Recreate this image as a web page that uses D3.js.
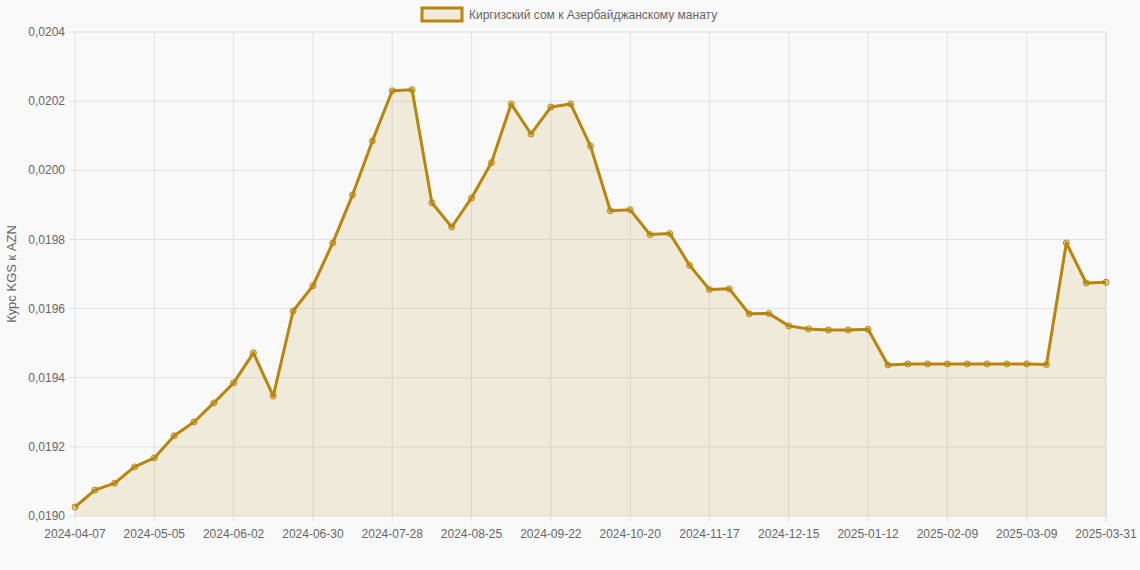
<!DOCTYPE html>
<html><head><meta charset="utf-8">
<script src="https://cdn.jsdelivr.net/npm/d3@7"></script>
<style>body{margin:0;background:#f9f9f9;font-family:"Liberation Sans",Arial,sans-serif}</style>
</head><body><svg id="chart" width="1140" height="570"></svg>
<script>
const dates = ["2024-04-07","2024-04-14","2024-04-21","2024-04-28","2024-05-05","2024-05-12","2024-05-19","2024-05-26",
"2024-06-02","2024-06-09","2024-06-16","2024-06-23","2024-06-30","2024-07-07","2024-07-14","2024-07-21",
"2024-07-28","2024-08-04","2024-08-11","2024-08-18","2024-08-25","2024-09-01","2024-09-08","2024-09-15",
"2024-09-22","2024-09-29","2024-10-06","2024-10-13","2024-10-20","2024-10-27","2024-11-03","2024-11-10",
"2024-11-17","2024-11-24","2024-12-01","2024-12-08","2024-12-15","2024-12-22","2024-12-29","2025-01-05",
"2025-01-12","2025-01-19","2025-01-26","2025-02-02","2025-02-09","2025-02-16","2025-02-23","2025-03-02",
"2025-03-09","2025-03-16","2025-03-23","2025-03-30","2025-03-31"];
const rates = [0.019026,0.019075,0.019095,0.019142,0.019168,0.019232,0.019272,0.019327,
0.019385,0.019472,0.019347,0.019593,0.019666,0.019790,0.019929,0.020085,
0.020230,0.020233,0.019906,0.019836,0.019920,0.020022,0.020192,0.020105,
0.020183,0.020192,0.020070,0.019883,0.019886,0.019814,0.019817,0.019725,
0.019655,0.019657,0.019585,0.019586,0.019550,0.019541,0.019538,0.019538,
0.019540,0.019437,0.019440,0.019440,0.019440,0.019440,0.019440,0.019440,
0.019440,0.019438,0.019790,0.019674,0.019676];
const yTicks = [0.0190,0.0192,0.0194,0.0196,0.0198,0.0200,0.0202,0.0204];
const label = "Киргизский сом к Азербайджанскому манату";
const color = "#b8860b";

const svg = d3.select("#chart");
const m = {l:75, r:1106, t:32, b:516};
const x = d3.scalePoint().domain(dates).range([m.l, m.r]);
const y = d3.scaleLinear().domain([0.0190, 0.0204]).range([m.b, m.t]);
const shown = dates.filter((d,i) => i % 4 === 0 || i === dates.length - 1);

const g = svg.append("g");
g.selectAll(".vg").data(dates.filter((d,i)=>i%4===0).concat([dates[dates.length-1]])).join("line")
  .attr("x1", d=>x(d)).attr("x2", d=>x(d)).attr("y1", m.t).attr("y2", m.b + 6)
  .attr("stroke", "#e2e2e2");
g.selectAll(".hg").data(yTicks).join("line")
  .attr("x1", m.l - 6).attr("x2", m.r).attr("y1", d=>y(d)).attr("y2", d=>y(d))
  .attr("stroke", "#e2e2e2");

g.selectAll(".yl").data(yTicks).join("text")
  .attr("x", m.l - 10).attr("y", d=>y(d)).attr("dy", "0.35em").attr("text-anchor", "end")
  .attr("font-size", 12).attr("fill", "#666").text(d => d.toFixed(4).replace(".", ","));
g.selectAll(".xl").data(shown).join("text")
  .attr("x", d=>x(d)).attr("y", m.b + 22).attr("text-anchor", "middle")
  .attr("font-size", 12).attr("fill", "#666").text(d=>d);

svg.append("text").attr("transform", `translate(16,${(m.t+m.b)/2}) rotate(-90)`)
  .attr("text-anchor", "middle").attr("font-size", 13).attr("fill", "#666").text("Курс KGS к AZN");

const area = d3.area().x((d,i)=>x(dates[i])).y0(m.b).y1(d=>y(d));
const line = d3.line().x((d,i)=>x(dates[i])).y(d=>y(d));
svg.append("path").datum(rates).attr("d", area).attr("fill", "rgba(184,134,11,0.12)");
svg.append("path").datum(rates).attr("d", line).attr("fill", "none")
  .attr("stroke", color).attr("stroke-width", 3).attr("stroke-linejoin", "round");
svg.selectAll(".pt").data(rates).join("circle")
  .attr("cx", (d,i)=>x(dates[i])).attr("cy", d=>y(d)).attr("r", 3)
  .attr("fill", "rgba(184,134,11,0.3)").attr("stroke", color).attr("stroke-width", 1);

const lg = svg.append("g");
lg.append("rect").attr("x", 422).attr("y", 8).attr("width", 40).attr("height", 13)
  .attr("fill", "rgba(184,134,11,0.12)").attr("stroke", color).attr("stroke-width", 3);
lg.append("text").attr("x", 469).attr("y", 19).attr("font-size", 12).attr("fill", "#666").text(label);
</script></body></html>
